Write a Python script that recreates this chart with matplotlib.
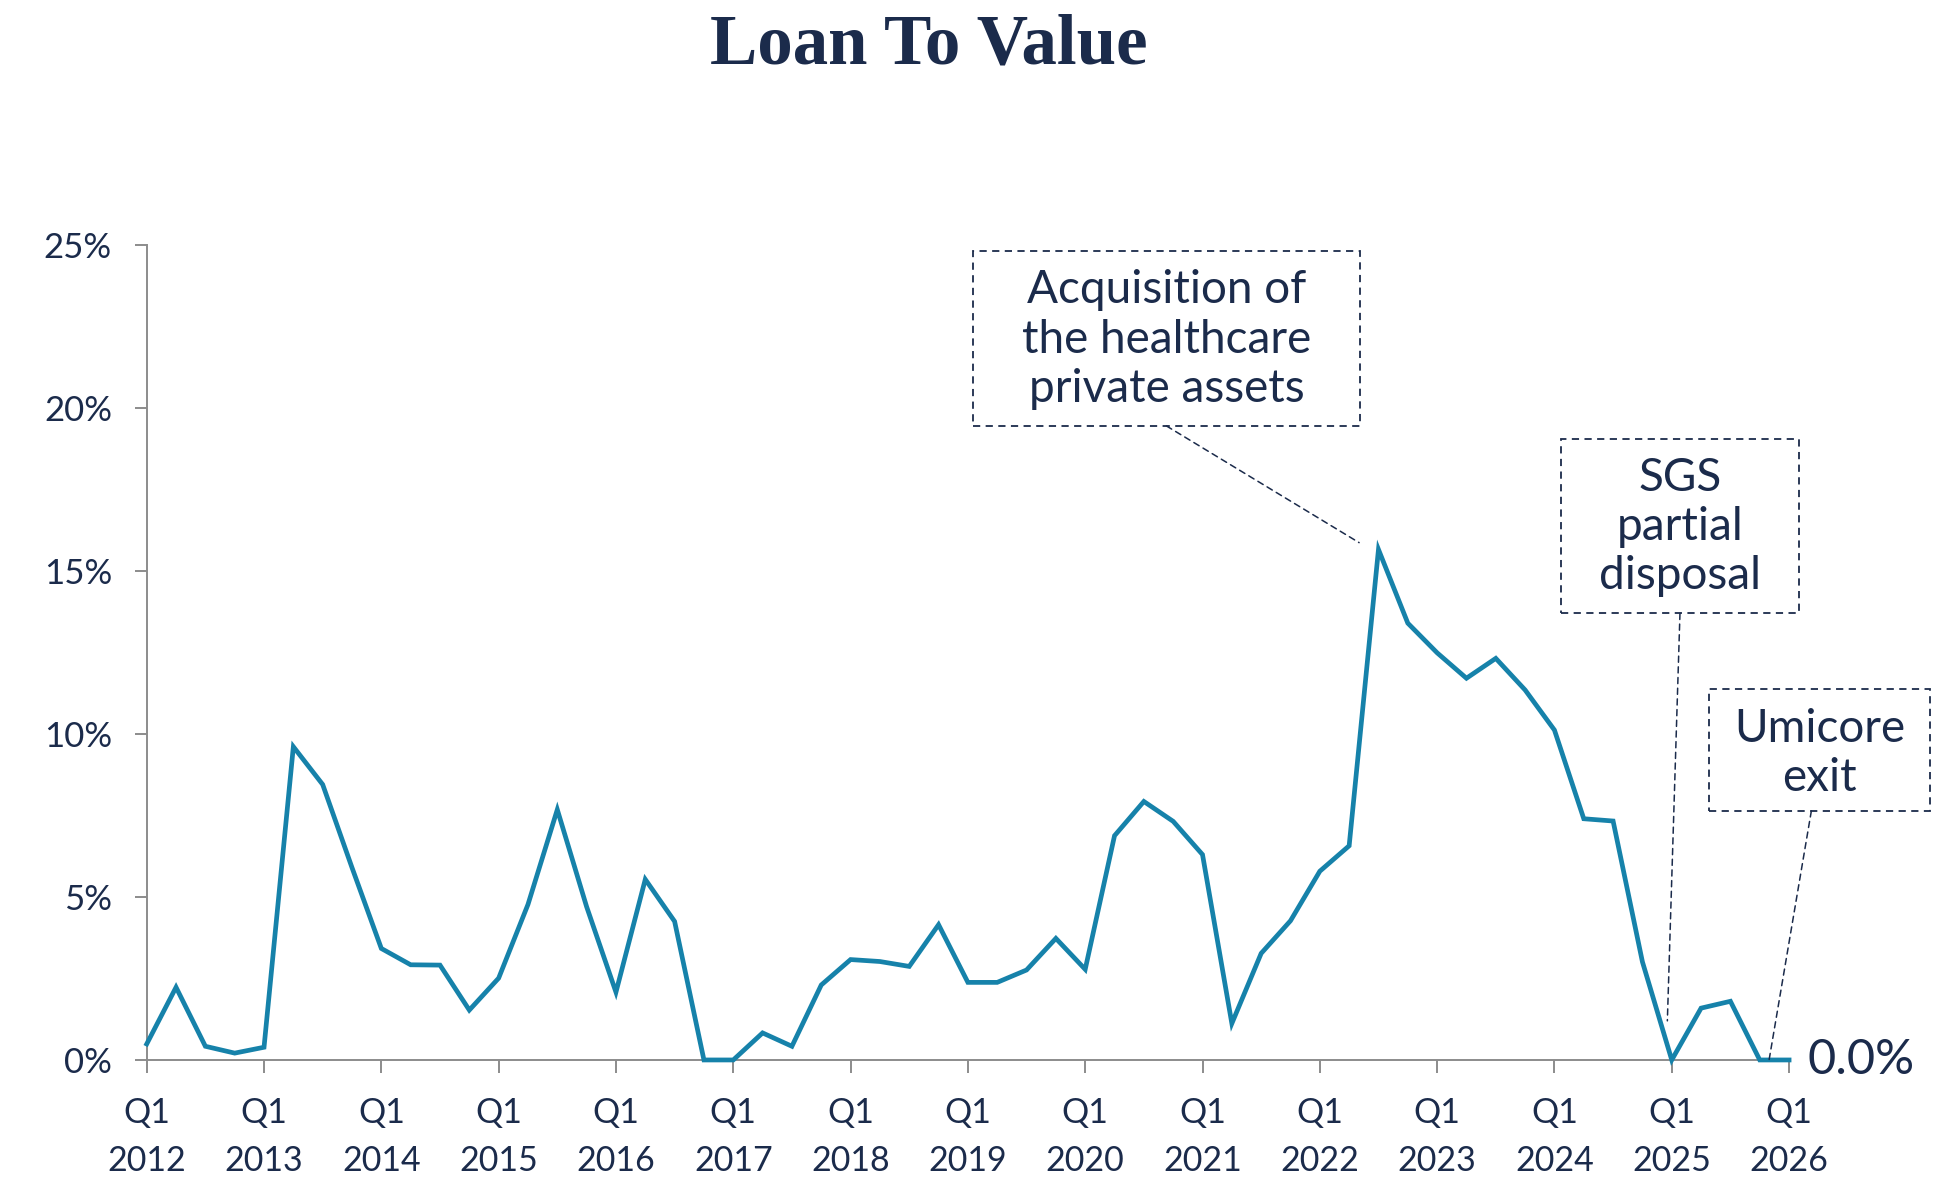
import matplotlib
matplotlib.use("Agg")
import matplotlib.pyplot as plt
from matplotlib.patches import Rectangle
import numpy as np

# ---- data ----
years = list(range(2012, 2027))
ltv = [
    0.49, 2.23, 0.42, 0.21,     # 2012
    0.39, 9.61, 8.45, 5.90,     # 2013
    3.42, 2.92, 2.91, 1.53,     # 2014
    2.51, 4.77, 7.68, 4.70,     # 2015
    2.08, 5.54, 4.25, 0.00,     # 2016
    0.00, 0.83, 0.42, 2.30,     # 2017
    3.08, 3.02, 2.87, 4.15,     # 2018
    2.38, 2.38, 2.76, 3.73,     # 2019
    2.78, 6.88, 7.93, 7.32,     # 2020
    6.30, 1.12, 3.27, 4.27,     # 2021
    5.79, 6.57, 15.66, 13.40,   # 2022
    12.49, 11.71, 12.32, 11.35, # 2023
    10.12, 7.40, 7.33, 3.01,    # 2024
    0.00, 1.59, 1.80, 0.00,     # 2025
    0.00,                       # 2026 Q1
]
tick_labels = [f"Q1\n{y}" for y in years]
y_ticks = [0, 5, 10, 15, 20, 25]
y_tick_labels = [f"{v}%" for v in y_ticks]
title = "Loan To Value"
notes = ["Acquisition of\nthe healthcare\nprivate assets",
         "SGS\npartial\ndisposal",
         "Umicore\nexit"]

NAVY = "#1B2B4B"
LINE = "#1682AA"
GRAY = "#8C8C8C"
FONT = "Lato"

fig = plt.figure(figsize=(19.51, 11.78), dpi=100)
ax = fig.add_axes([0.0752, 0.1002, 0.8418, 0.6918])

x = np.arange(len(ltv))
ax.plot(x, ltv, color=LINE, lw=3.4, solid_joinstyle="miter", clip_on=False, zorder=3)

ax.set_xlim(0, len(ltv) - 1)
ax.set_ylim(0, 25)
ax.set_xticks(np.arange(0, len(ltv), 4))
ax.set_xticklabels(tick_labels, fontsize=24.5, family=FONT, color=NAVY, linespacing=1.58)
ax.set_yticks(y_ticks)
ax.set_yticklabels(y_tick_labels, fontsize=25, family=FONT, color=NAVY)
ax.tick_params(axis="x", length=9, width=1.4, color=GRAY, pad=18)
ax.tick_params(axis="y", length=9, width=1.4, color=GRAY, pad=16)
for s in ["top", "right"]:
    ax.spines[s].set_visible(False)
for s in ["left", "bottom"]:
    ax.spines[s].set_color(GRAY)
    ax.spines[s].set_linewidth(1.4)

fig.text(0.476, 0.946, title, ha="center", va="baseline", fontsize=51,
         fontweight="bold", family="Liberation Serif", color=NAVY)

# ---- annotations ----
def note_box(x0, x1, y0, y1):
    ax.add_patch(Rectangle((x0, y0), x1 - x0, y1 - y0, fill=False, ec=NAVY,
                           lw=1.3, ls=(0, (4, 3)), clip_on=False, zorder=4))

def leader(xy_from, xy_to):
    ax.annotate("", xy=xy_to, xytext=xy_from,
                arrowprops=dict(arrowstyle="-", color=NAVY, lw=1.1,
                                ls=(0, (4, 3)), shrinkA=0, shrinkB=0),
                annotation_clip=False)

txt_kw = dict(ha="center", va="center", fontsize=33, family=FONT, color=NAVY,
              linespacing=1.22, clip_on=False)

# Acquisition
note_box(28.18, 41.36, 19.45, 24.83)
ax.text(34.77, 22.10, notes[0], **txt_kw)
leader((34.77, 19.45), (41.34, 15.87))

# SGS
note_box(48.22, 56.34, 13.70, 19.04)
ax.text(52.28, 16.35, notes[1], **txt_kw)
leader((52.28, 13.70), (51.85, 1.2))

# Umicore
note_box(53.26, 60.82, 7.64, 11.37)
ax.text(57.04, 9.40, notes[2], **txt_kw)
leader((56.76, 7.64), (55.3, -0.1))

# last value label
ax.annotate(f"{ltv[-1]:.1f}%", xy=(x[-1], ltv[-1]), xytext=(13, 0),
            textcoords="offset points", ha="left", va="center",
            fontsize=35, family=FONT, color=NAVY, annotation_clip=False)

fig.savefig("out.png", dpi=100)
